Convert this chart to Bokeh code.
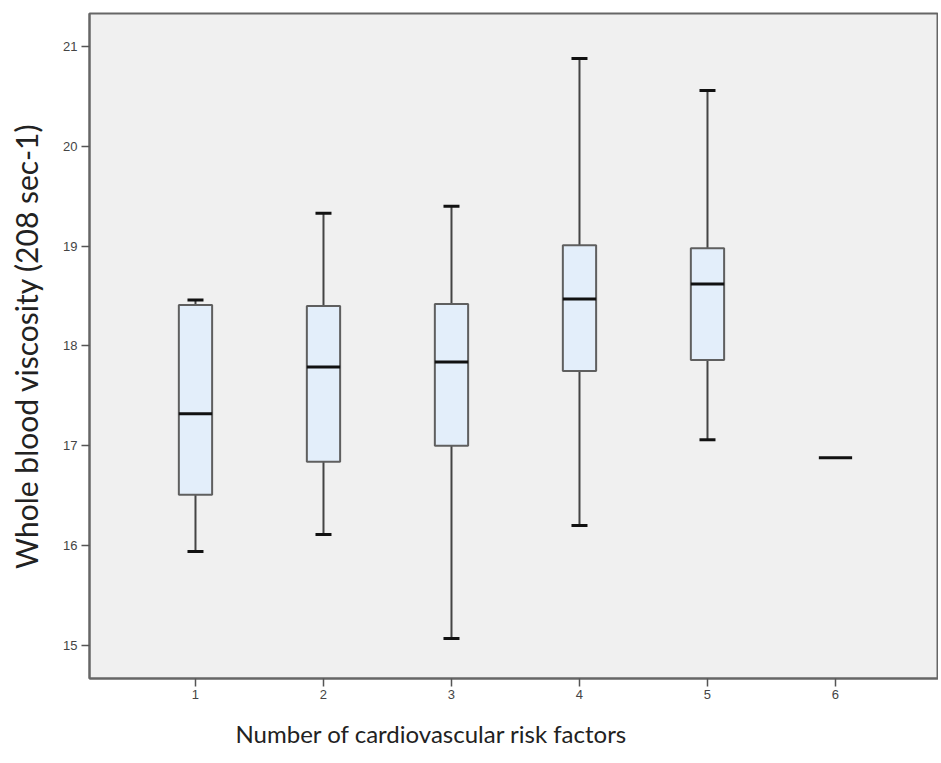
from bokeh.plotting import figure
from bokeh.models import Range1d, FixedTicker, Title
from bokeh.embed import file_html
from bokeh.resources import INLINE

# Data
groups = [1, 2, 3, 4, 5, 6]
whisker_low = [15.94, 16.11, 15.07, 16.20, 17.06, 16.88]
q1 = [16.51, 16.84, 17.00, 17.75, 17.86, 16.88]
median = [17.32, 17.79, 17.84, 18.47, 18.62, 16.88]
q3 = [18.41, 18.40, 18.42, 19.01, 18.98, 16.88]
whisker_high = [18.46, 19.33, 19.40, 20.88, 20.56, 16.88]
y_ticks = [15, 16, 17, 18, 19, 20, 21]

BOX_W = 0.26
CAP_W = 0.125

W, H = 938, 763
p = figure(width=W, height=H, output_backend="svg", toolbar_location=None,
           x_range=Range1d(0.172, 0.172 + (W - 89) / 128.0),
           y_range=Range1d(14.668, 21.331),
           min_border_left=89, min_border_top=13, min_border_bottom=H - 678,
           min_border_right=0)
p.background_fill_color = "#f0f0f0"
p.border_fill_color = "white"
p.outline_line_color = "#666666"
p.outline_line_width = 2
p.xgrid.visible = False
p.ygrid.visible = False

# boxes where a box exists
bx = [g for g, a, b in zip(groups, q1, q3) if b > a]
bq1 = [a for a, b in zip(q1, q3) if b > a]
bq3 = [b for a, b in zip(q1, q3) if b > a]
wx = [g for g, lo, hi in zip(groups, whisker_low, whisker_high) if hi > lo]
wlo = [lo for lo, hi in zip(whisker_low, whisker_high) if hi > lo]
whi = [hi for lo, hi in zip(whisker_low, whisker_high) if hi > lo]
wq1 = [a for a, lo, hi in zip(q1, whisker_low, whisker_high) if hi > lo]
wq3 = [b for b, lo, hi in zip(q3, whisker_low, whisker_high) if hi > lo]

# whiskers
p.segment(x0=wx, y0=wq3, x1=wx, y1=whi, line_color="#444444", line_width=2)
p.segment(x0=wx, y0=wlo, x1=wx, y1=wq1, line_color="#444444", line_width=2)
p.segment(x0=[x - CAP_W / 2 for x in wx], y0=whi, x1=[x + CAP_W / 2 for x in wx], y1=whi,
          line_color="#111111", line_width=3)
p.segment(x0=[x - CAP_W / 2 for x in wx], y0=wlo, x1=[x + CAP_W / 2 for x in wx], y1=wlo,
          line_color="#111111", line_width=3)

# boxes
p.vbar(x=bx, width=BOX_W, bottom=bq1, top=bq3, fill_color="#e3eefa",
       line_color="#5f5f5f", line_width=2)

# medians
p.segment(x0=[g - BOX_W / 2 for g in groups], y0=median,
          x1=[g + BOX_W / 2 for g in groups], y1=median,
          line_color="#111111", line_width=3)

# axes
p.xaxis.ticker = FixedTicker(ticks=groups)
p.yaxis.ticker = FixedTicker(ticks=y_ticks)
for ax in (p.xaxis, p.yaxis):
    ax.minor_tick_line_color = None
    ax.major_tick_in = 0
    ax.major_tick_out = 8
    ax.major_tick_line_color = "#555555"
    ax.major_tick_line_width = 1.5
    ax.axis_line_color = "#666666"
    ax.axis_line_width = 2
    ax.major_label_text_font = "Liberation Sans"
    ax.major_label_text_font_size = "13px"
    ax.major_label_text_color = "#444444"
    ax.axis_label_text_font = "Lato"
    ax.axis_label_text_font_style = "normal"
    ax.axis_label_text_color = "#222222"

p.xaxis.major_label_standoff = 3

xlabel = Title(text="Number of cardiovascular risk factors", align="left",
               offset=146, text_font="Lato", text_font_size="24px",
               text_font_style="normal", text_color="#222222", standoff=30)
p.add_layout(xlabel, "below")

p.yaxis.axis_label = "Whole blood viscosity (208 sec-1)"
p.yaxis.axis_label_text_font_size = "30px"
p.yaxis.major_label_standoff = 4
p.yaxis.axis_label_standoff = 16

open("out.html", "w").write(file_html(p, INLINE))
